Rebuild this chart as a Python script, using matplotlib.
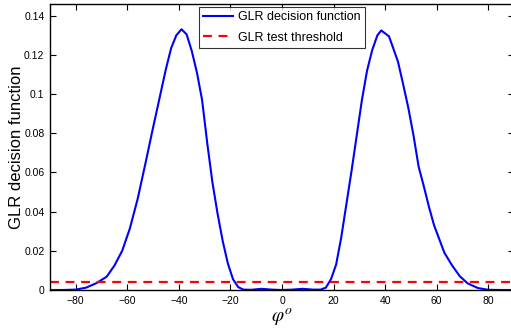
import numpy as np
import matplotlib
matplotlib.use("Agg")
import matplotlib.pyplot as plt

plt.rcParams['font.family'] = ['Liberation Sans', 'DejaVu Sans']
plt.rcParams['mathtext.fontset'] = 'stix'

# GLR decision function (angle in degrees)
phi = [-90, -85, -80, -76, -72, -68, -65, -62, -59, -56, -53, -50, -47, -45,
       -43, -41, -39, -37, -35, -33, -31, -29, -27, -25, -23, -21, -19, -17,
       -15, -12, -8, -4, 0, 4, 8, 12, 15, 17, 19, 21, 23, 25, 27, 29, 31, 33,
       35, 37, 38.5, 40, 41.5, 43, 45, 47, 49, 51, 53, 55, 57, 59, 61, 63,
       66, 69, 72, 76, 80, 85, 90]
glr = [0.0, 0.0, 0.0002, 0.0012, 0.0035, 0.0068, 0.0125, 0.0200, 0.0315,
       0.0465, 0.0645, 0.0830, 0.1010, 0.1130, 0.1235, 0.1300, 0.1331, 0.1305,
       0.1220, 0.1110, 0.0970, 0.0750, 0.0550, 0.0390, 0.0250, 0.0135, 0.0055,
       0.0015, 0.0002, 0.0001, 0.0006, 0.0002, 0.0, 0.0002, 0.0006, 0.0002,
       0.0002, 0.0012, 0.0055, 0.0130, 0.0270, 0.0440, 0.0610, 0.0790, 0.0970,
       0.1120, 0.1225, 0.1300, 0.1325, 0.1310, 0.1295, 0.1240, 0.1165, 0.1050,
       0.0930, 0.0790, 0.0630, 0.0530, 0.0425, 0.0330, 0.0260, 0.0190, 0.0125,
       0.0070, 0.0034, 0.0010, 0.0001, 0.0, 0.0]
threshold = 0.0039

xticks = [-80, -60, -40, -20, 0, 20, 40, 60, 80]
yticks = [0, 0.02, 0.04, 0.06, 0.08, 0.1, 0.12, 0.14]
ytick_labels = ['0', '0.02', '0.04', '0.06', '0.08', '0.1', '0.12', '0.14']

fig = plt.figure(figsize=(5.11, 3.33), dpi=100)
ax = fig.add_axes([50 / 511, 43 / 333, 464 / 511, 286 / 333])

ax.plot(phi, glr, color='#0000ff', lw=1.5, label='GLR decision function')
ax.axhline(threshold, color='#ff0000', lw=1.6, ls=(0, (4, 3)),
           label='GLR test threshold')

ax.set_xlim(-90, 90)
ax.set_ylim(0, 0.146)
ax.set_xticks(xticks)
ax.set_xticklabels([str(t).replace('-', '\u2212') for t in xticks])
ax.set_yticks(yticks)
ax.set_yticklabels(ytick_labels)
ax.tick_params(direction='in', top=True, right=True, length=4, width=0.8,
               labelsize=7.5, pad=4)
for s in ax.spines.values():
    s.set_linewidth(1.0)

ax.set_ylabel('GLR decision function', fontsize=12, labelpad=0)
ax.yaxis.set_label_coords(-0.057, 0.5)
ax.set_xlabel(r'$\varphi^o$', fontsize=14, labelpad=1)

leg = ax.legend(loc='upper center', bbox_to_anchor=(0.5, 1.0), fontsize=9,
                frameon=True, fancybox=False, edgecolor='black',
                borderpad=0.35, handlelength=2.4, handletextpad=0.4,
                labelspacing=0.65, borderaxespad=0.25)
leg.get_frame().set_linewidth(0.8)

fig.savefig('out.png', dpi=100)
